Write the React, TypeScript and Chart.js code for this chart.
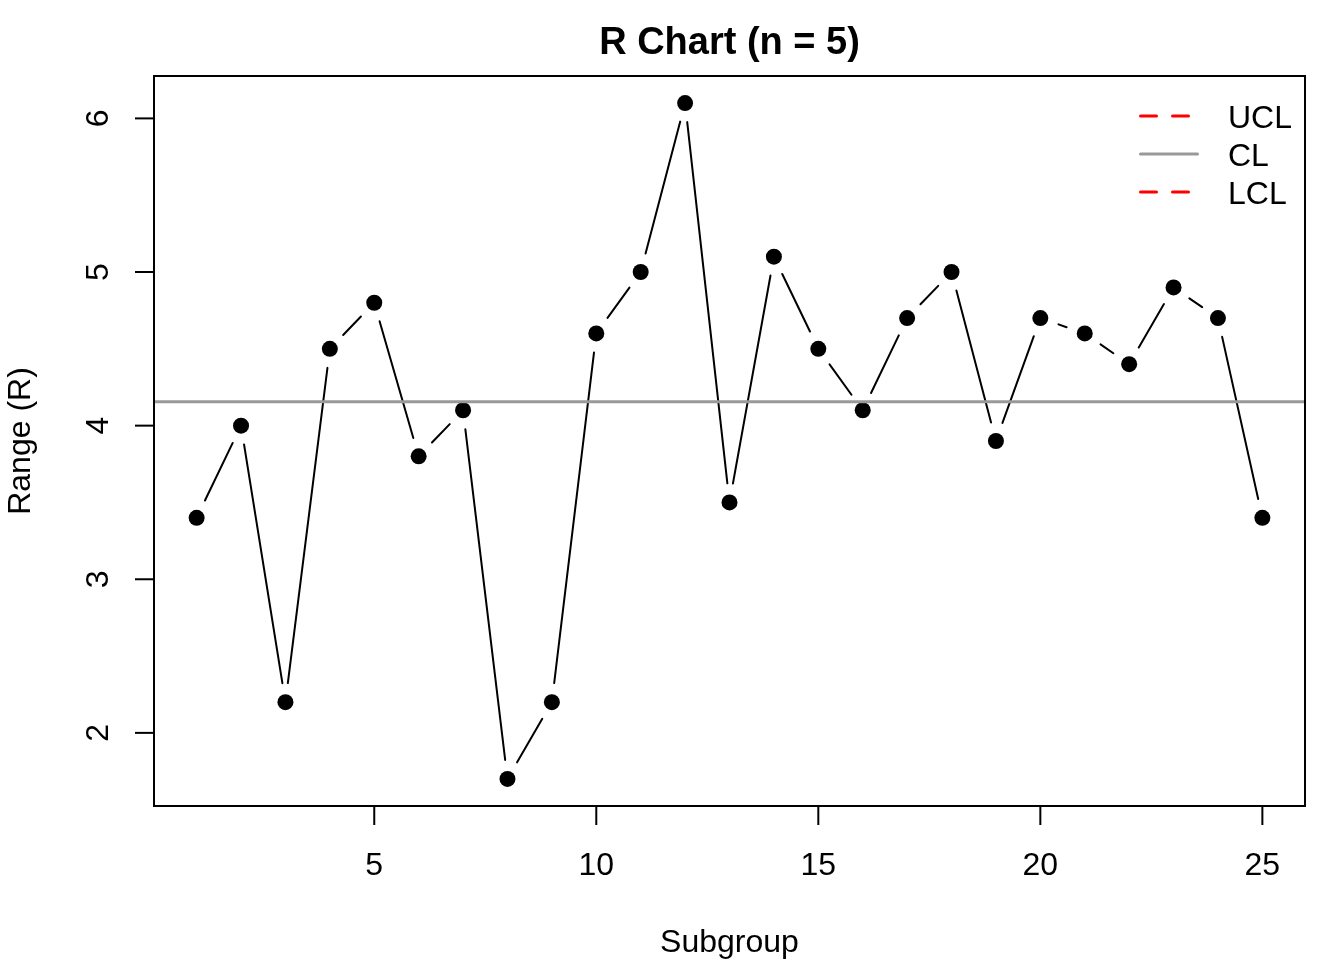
import { useEffect, useRef } from "react";
import { Chart, Plugin, registerables } from "chart.js";

Chart.register(...registerables);

// R chart data: subgroup ranges (n = 5)
const subgroups = [1, 2, 3, 4, 5, 6, 7, 8, 9, 10, 11, 12, 13, 14, 15, 16, 17, 18, 19, 20, 21, 22, 23, 24, 25];
const ranges = [3.4, 4.0, 2.2, 4.5, 4.8, 3.8, 4.1, 1.7, 2.2, 4.6, 5.0, 6.1, 3.5, 5.1, 4.5, 4.1, 4.7, 5.0, 3.9, 4.7, 4.6, 4.4, 4.9, 4.7, 3.4];
const centerLine = 4.156;
const upperLimit = 8.786;
const lowerLimit = 0;
const xTicks = [5, 10, 15, 20, 25];
const yTicks = [2, 3, 4, 5, 6];
const legendLabels = ["UCL", "CL", "LCL"];

const X_MIN = 0.04;
const X_MAX = 25.96;
const Y_MIN = 1.524;
const Y_MAX = 6.276;

const FONT = '"Liberation Sans", Arial, Helvetica, sans-serif';
const RED = "#FF0000";
const GRAY = "#999999";
const GAP = 19.2; // type = "b" gap around points

// lines between points with gaps, like R's type = "b"
const gappedLines: Plugin = {
  id: "gappedLines",
  beforeDatasetsDraw(chart) {
    const { ctx, chartArea } = chart;
    const pts = chart.getDatasetMeta(0).data;
    ctx.save();
    ctx.beginPath();
    ctx.rect(chartArea.left, chartArea.top, chartArea.right - chartArea.left, chartArea.bottom - chartArea.top);
    ctx.clip();
    ctx.strokeStyle = "#000000";
    ctx.lineWidth = 2;
    ctx.lineCap = "round";
    for (let i = 0; i < pts.length - 1; i++) {
      const a = pts[i];
      const b = pts[i + 1];
      const dx = b.x - a.x;
      const dy = b.y - a.y;
      const len = Math.sqrt(dx * dx + dy * dy);
      if (len <= 2 * GAP) continue;
      const ux = dx / len;
      const uy = dy / len;
      ctx.beginPath();
      ctx.moveTo(a.x + ux * GAP, a.y + uy * GAP);
      ctx.lineTo(b.x - ux * GAP, b.y - uy * GAP);
      ctx.stroke();
    }
    ctx.restore();
  },
};

// base-graphics style frame, axes, titles and legend
const rFrame: Plugin = {
  id: "rFrame",
  afterDraw(chart) {
    const { ctx, chartArea } = chart;
    const xs = chart.scales.x;
    const ys = chart.scales.y;
    ctx.save();
    ctx.strokeStyle = "#000000";
    ctx.fillStyle = "#000000";
    ctx.lineWidth = 2;
    ctx.lineCap = "butt";
    ctx.strokeRect(chartArea.left, chartArea.top, chartArea.right - chartArea.left, chartArea.bottom - chartArea.top);

    // x axis
    ctx.font = `32px ${FONT}`;
    ctx.textAlign = "center";
    ctx.textBaseline = "alphabetic";
    xTicks.forEach((t) => {
      const px = xs.getPixelForValue(t);
      ctx.beginPath();
      ctx.moveTo(px, chartArea.bottom);
      ctx.lineTo(px, chartArea.bottom + 19);
      ctx.stroke();
      ctx.fillText(String(t), px, 875);
    });

    // y axis, labels parallel to the axis
    yTicks.forEach((t) => {
      const py = ys.getPixelForValue(t);
      ctx.beginPath();
      ctx.moveTo(chartArea.left, py);
      ctx.lineTo(chartArea.left - 19, py);
      ctx.stroke();
      ctx.save();
      ctx.translate(108, py);
      ctx.rotate(-Math.PI / 2);
      ctx.fillText(String(t), 0, 0);
      ctx.restore();
    });

    const midX = (chartArea.left + chartArea.right) / 2;
    const midY = (chartArea.top + chartArea.bottom) / 2;
    ctx.fillText("Subgroup", midX, 952);
    ctx.save();
    ctx.translate(30, midY);
    ctx.rotate(-Math.PI / 2);
    ctx.fillText("Range (R)", 0, 0);
    ctx.restore();

    ctx.font = `bold 38px ${FONT}`;
    ctx.fillText("R Chart (n = 5)", midX, 54);

    // legend, no box
    ctx.font = `32px ${FONT}`;
    ctx.textAlign = "left";
    legendLabels.forEach((label, i) => {
      const y = 116 + i * 38;
      ctx.save();
      ctx.lineWidth = 3;
      ctx.lineCap = "round";
      if (label === "CL") {
        ctx.strokeStyle = GRAY;
      } else {
        ctx.strokeStyle = RED;
        ctx.setLineDash([16, 16]);
      }
      ctx.beginPath();
      ctx.moveTo(1140.5, y);
      ctx.lineTo(1197.5, y);
      ctx.stroke();
      ctx.restore();
      ctx.fillText(label, 1228, y + 11.5);
    });
    ctx.restore();
  },
};

export default function App() {
  const chartRef = useRef<HTMLCanvasElement>(null);
  const chartInstance = useRef<Chart | null>(null);

  useEffect(() => {
    document.body.style.margin = "0";
    if (!chartRef.current) return;
    if (chartInstance.current) {
      chartInstance.current.destroy();
    }
    const ctx = chartRef.current.getContext("2d");
    if (!ctx) return;

    chartInstance.current = new Chart(ctx, {
      type: "line",
      data: {
        datasets: [
          {
            label: "R",
            data: subgroups.map((s, i) => ({ x: s, y: ranges[i] })),
            showLine: false,
            pointRadius: 8,
            pointBackgroundColor: "#000000",
            pointBorderWidth: 0,
            order: 1,
          },
          {
            label: "CL",
            data: [
              { x: X_MIN, y: centerLine },
              { x: X_MAX, y: centerLine },
            ],
            borderColor: GRAY,
            borderWidth: 3,
            pointRadius: 0,
            order: 0,
          },
          {
            label: "UCL",
            data: [
              { x: X_MIN, y: upperLimit },
              { x: X_MAX, y: upperLimit },
            ],
            borderColor: RED,
            borderWidth: 3,
            borderDash: [16, 16],
            pointRadius: 0,
            order: 0,
          },
          {
            label: "LCL",
            data: [
              { x: X_MIN, y: lowerLimit },
              { x: X_MAX, y: lowerLimit },
            ],
            borderColor: RED,
            borderWidth: 3,
            borderDash: [16, 16],
            pointRadius: 0,
            order: 0,
          },
        ],
      },
      options: {
        responsive: false,
        devicePixelRatio: 1,
        animation: false,
        layout: {
          padding: { left: 154, right: 39, top: 76, bottom: 154 },
        },
        plugins: {
          legend: { display: false },
          title: { display: false },
          tooltip: { enabled: false },
        },
        scales: {
          x: { type: "linear", min: X_MIN, max: X_MAX, display: false },
          y: { type: "linear", min: Y_MIN, max: Y_MAX, display: false },
        },
      },
      plugins: [gappedLines, rFrame],
    });

    return () => {
      if (chartInstance.current) {
        chartInstance.current.destroy();
        chartInstance.current = null;
      }
    };
  }, []);

  return (
    <div style={{ width: 1344, height: 960, background: "#ffffff" }}>
      <canvas ref={chartRef} width={1344} height={960} style={{ display: "block" }}></canvas>
    </div>
  );
}
